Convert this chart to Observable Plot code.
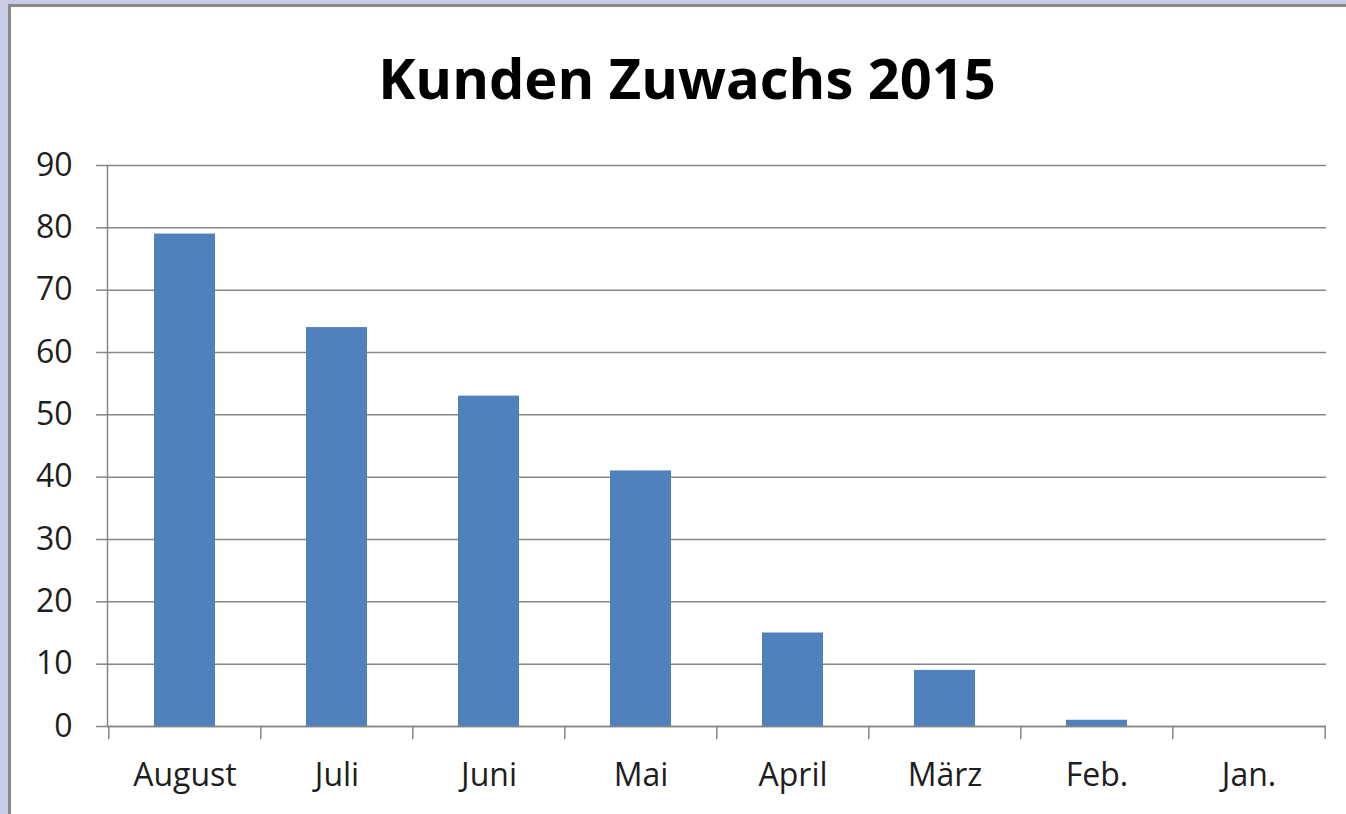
<!DOCTYPE html>
<html><head><meta charset="utf-8">
<script src="https://cdn.jsdelivr.net/npm/d3@7"></script>
<script src="https://cdn.jsdelivr.net/npm/@observablehq/plot@0.6"></script>
<style>
html,body{margin:0;padding:0;background:#c9cce3;width:1346px;height:814px;overflow:hidden;}
#frame{position:absolute;left:8px;top:4px;right:0;bottom:0;background:#fff;border-left:3px solid #8a8a8a;border-top:3px solid #8a8a8a;}
#title{position:absolute;left:676px;top:42px;transform:translateX(-50%);font-family:"Open Sans";font-weight:bold;font-size:56px;line-height:1;white-space:nowrap;color:#000;}
#chart{position:absolute;left:0;top:0;}
</style></head>
<body><div id="frame"><div id="title">Kunden Zuwachs 2015</div><div id="chart"></div></div>
<script>
const months = ["August", "Juli", "Juni", "Mai", "April", "März", "Feb.", "Jan."];
const values = [79, 64, 53, 41, 15, 9, 1, 0];
const yTicks = [0, 10, 20, 30, 40, 50, 60, 70, 80, 90];

const data = months.map((m, i) => ({month: m, value: values[i]}));

const W = 1335, H = 807, ML = 96, MR = 20, MT = 158, MB = 88;
const step = (W - ML - MR) / months.length;
const gridColor = "#868686";

const chart = Plot.plot({
  width: W, height: H,
  marginLeft: ML, marginRight: MR, marginTop: MT, marginBottom: MB,
  style: {fontFamily: "Open Sans", fontSize: "32px", color: "#1e1e1e", background: "transparent"},
  x: {type: "band", domain: months, paddingInner: 0.6, paddingOuter: 0.3},
  y: {domain: [0, 90]},
  marks: [
    Plot.gridY(yTicks, {stroke: gridColor, strokeOpacity: 1, strokeWidth: 1.5}),
    Plot.barY(data, {x: "month", y: "value", fill: "#4f81bd"}),
    Plot.ruleY([0], {stroke: gridColor, strokeWidth: 1.5}),
    Plot.frame({anchor: "left", stroke: gridColor, strokeWidth: 1.5}),
    Plot.axisY(yTicks, {tickSize: 11, tickPadding: 24, stroke: gridColor, strokeWidth: 1.5, fontSize: 32, label: null, tickFormat: d => String(d)}),
    Plot.axisX(months, {tickSize: 13, fill: "none", stroke: gridColor, strokeWidth: 1.5, dx: -step / 2, label: null}),
    Plot.axisX([months[months.length - 1]], {tickSize: 13, fill: "none", stroke: gridColor, strokeWidth: 1.5, dx: step / 2, label: null}),
    Plot.axisX(months, {tickSize: 0, tickPadding: 37, fontSize: 32, label: null})
  ]
});
document.getElementById("chart").appendChild(chart);
</script>
</body></html>
